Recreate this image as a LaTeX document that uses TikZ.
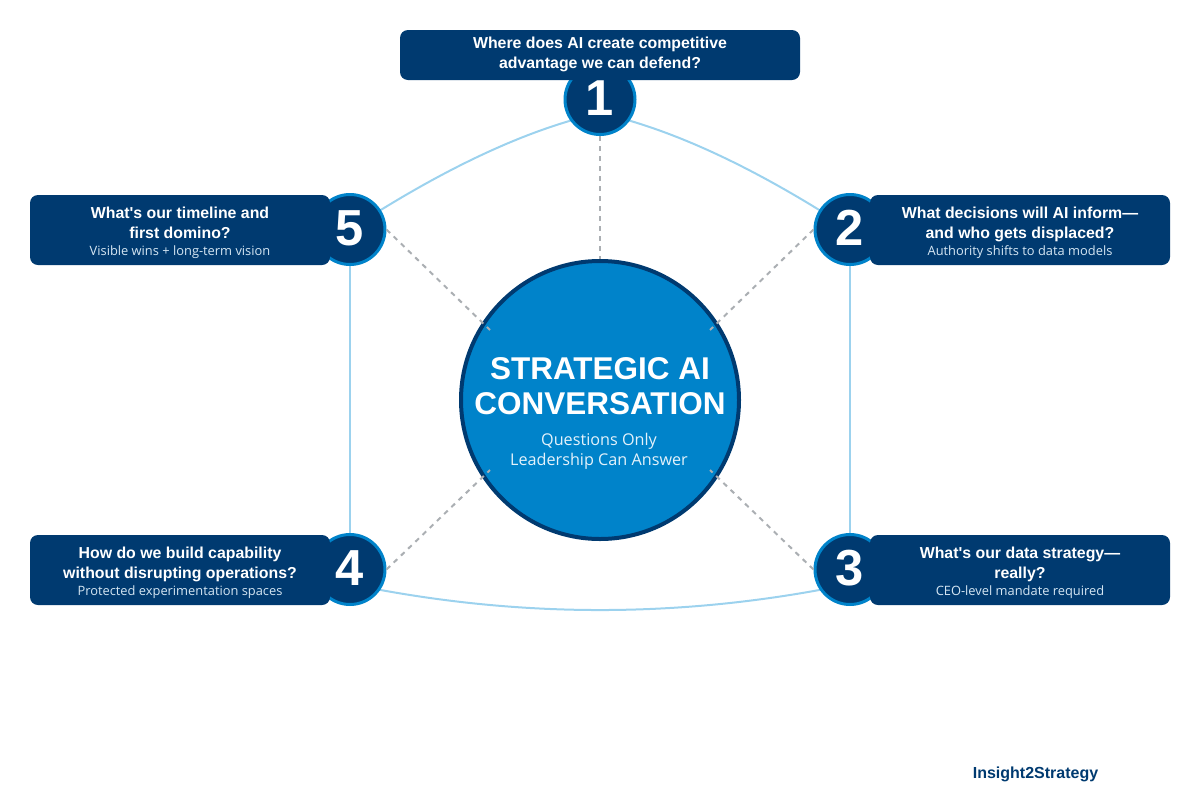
\documentclass[tikz,border=0pt]{standalone}
\usepackage{fontspec}
\setmainfont{Liberation Sans}
\newfontfamily\arial{Liberation Sans}
\newfontfamily\subfont{Open Sans}
\definecolor{navy}{HTML}{003A70}
\definecolor{midblue}{HTML}{0083CA}
\definecolor{linkblue}{HTML}{9CD2EE}
\definecolor{dashgrey}{HTML}{ABAFB3}
\definecolor{subgrey}{HTML}{D5E6F3}
\definecolor{subwhite}{HTML}{E4F2FB}
\newcommand{\sbt}{\fontsize{9.65}{15}\selectfont\subfont\mdseries\color{subgrey}}
\tikzset{
  x=0.75pt,y=-0.75pt,
  hub/.style={circle,draw=navy,fill=midblue,line width=3pt,minimum size=208.5pt,inner sep=0pt},
  numdot/.style={circle,draw=midblue,fill=navy,line width=2.25pt,minimum size=52.5pt,inner sep=0pt,text=white,text depth=2pt,font=\fontsize{38}{38}\selectfont\arial\bfseries},
  card/.style={rectangle,rounded corners=6pt,fill=navy,minimum width=225pt,minimum height=52.5pt,inner sep=0pt},
  topcard/.style={card,minimum width=300pt,minimum height=37.5pt},
  cardtext/.style={text=white,align=center,inner sep=0pt,font=\fontsize{11.9}{15}\selectfont\arial\bfseries},
  ring/.style={draw=linkblue,line width=1.5pt},
  spoke/.style={draw=dashgrey,line width=1.5pt,dash pattern=on 3.75pt off 3.75pt}
}
\begin{document}
\begin{tikzpicture}
\useasboundingbox (0,0) rectangle (1200,800);
\coordinate (c1) at (600,99.5);
\coordinate (c2) at (850,229.5);
\coordinate (c3) at (850,569.5);
\coordinate (c4) at (350,569.5);
\coordinate (c5) at (350,229.5);
\coordinate (e1) at (600,113);
\coordinate (e3) at (850,584);
\coordinate (e4) at (350,584);
\coordinate (s2) at (710,330);
\coordinate (s3) at (710,470);
\coordinate (s4) at (490,470);
\coordinate (s5) at (490,330);
\node[hub] (hub) at (600,400) {};
\draw[ring] (c5) .. controls (444.7,167.7) and (528,129) .. (e1);
\draw[ring] (e1) .. controls (672,129) and (755.3,167.7) .. (c2);
\draw[ring] (c2) -- (c3);
\draw[ring] (c5) -- (c4);
\draw[ring] (e4) .. controls (516.7,618.7) and (683.3,618.7) .. (e3);
\node[numdot] (n1) at (c1) {1};
\node[numdot] (n2) at (c2) {2};
\node[numdot] (n3) at (c3) {3};
\node[numdot] (n4) at (c4) {4};
\node[numdot] (n5) at (c5) {5};
\draw[spoke] (n1.south) -- (hub.north);
\draw[spoke] (n2.west) -- (s2);
\draw[spoke] (n3.west) -- (s3);
\draw[spoke] (n4.east) -- (s4);
\draw[spoke] (n5.east) -- (s5);
\node[topcard] (b1) at (600,55) {};
\node[card] (b2) at (1020,230) {};
\node[card] (b3) at (1020,570) {};
\node[card] (b4) at (180,570) {};
\node[card] (b5) at (180,230) {};
\node[cardtext] (t1) at (600,54) {Where does AI create competitive\\advantage we can defend?};
\node[cardtext] (t2) at (1020,232.5) {What decisions will AI inform—\\and who gets displaced?\\[-2pt]{\sbt Authority shifts to data models}};
\node[cardtext] (t3) at (1020,572.5) {What's our data strategy—\\really?\\[-2pt]{\sbt CEO-level mandate required}};
\node[cardtext] (t4) at (180,572.5) {How do we build capability\\without disrupting operations?\\[-2pt]{\sbt Protected experimentation spaces}};
\node[cardtext] (t5) at (180,232.5) {What's our timeline and\\first domino?\\[-2pt]{\sbt Visible wins + long-term vision}};
\node[cardtext,font=\fontsize{23.6}{26.25}\selectfont\arial\bfseries] (title) at (600,386) {STRATEGIC AI\\CONVERSATION};
\node[cardtext,font=\fontsize{12.15}{15}\selectfont\subfont,text=subwhite] (subtitle) at (599,451) {Questions Only\\Leadership Can Answer};
\node[inner sep=0pt,text=navy,font=\fontsize{12}{14}\selectfont\arial\bfseries] (brand) at (1035.5,774) {Insight2Strategy};
\end{tikzpicture}
\end{document}
